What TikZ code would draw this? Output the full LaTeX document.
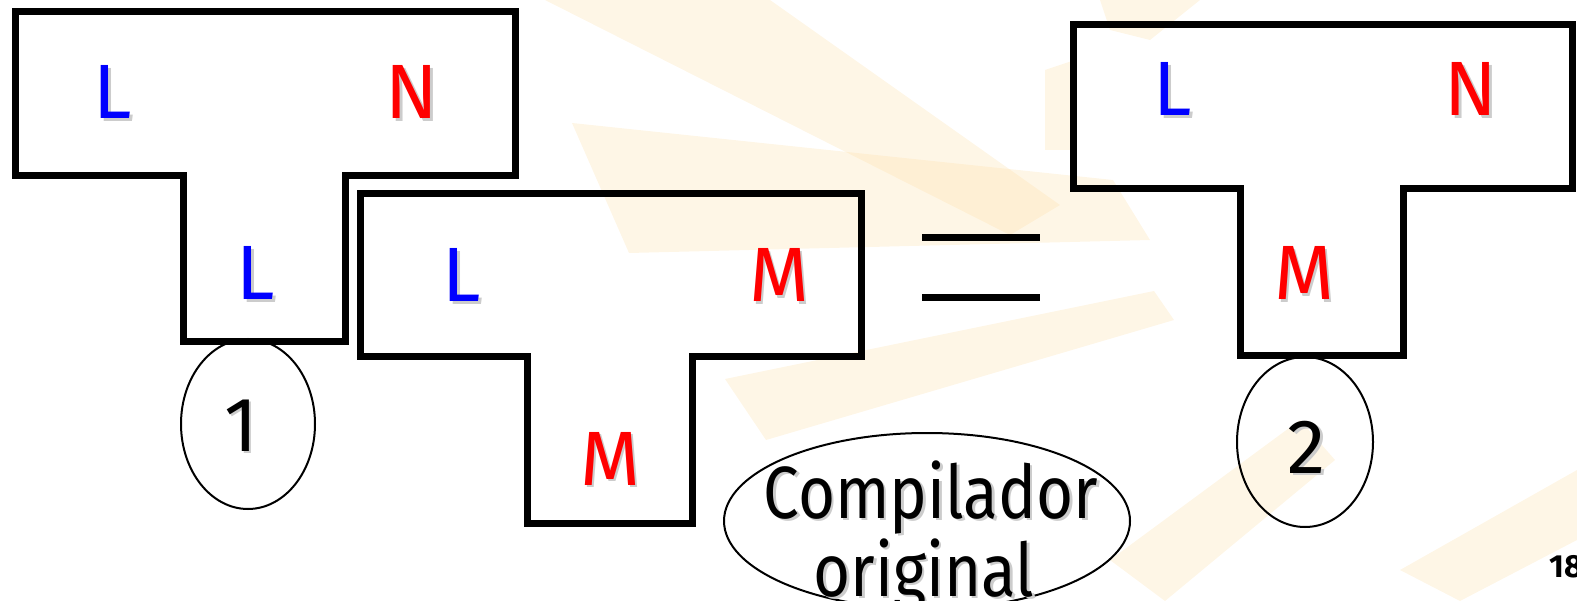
\documentclass[tikz,border=0pt]{standalone}
\usepackage{fontspec}
\setmainfont{Fira Sans}
\newfontfamily\condfont[FakeStretch=0.86]{Fira Sans}
\usetikzlibrary{shapes.geometric}
\definecolor{rayc}{RGB}{252,222,165}
\definecolor{lblue}{RGB}{0,0,255}
\definecolor{lred}{RGB}{255,0,0}
\newcommand\shd[2]{\makebox[0pt][l]{\hspace{2.5pt}\raisebox{-2.5pt}{\textcolor{black!20}{#2}}}\textcolor{#1}{#2}}
\begin{document}
\begin{tikzpicture}[x=1pt,y=-1pt,
  tshape/.style={draw=black,line width=7pt},
  ray/.style={fill=rayc,fill opacity=0.28},
  letter/.style={font=\fontsize{77}{80}\selectfont,anchor=base,inner sep=0pt},
  comptext/.style={font=\condfont\fontsize{74}{78}\selectfont,anchor=base,inner sep=0pt},
  oval/.style={draw=black,line width=2pt,ellipse,inner sep=0pt},
  eqline/.style={draw=black,line width=7pt}]
\useasboundingbox (0,0) rectangle (1577,601);
% faint background rays
\fill[ray] (545,0) -- (770,0) -- (1060,205) -- (1010,235) -- cycle;
\fill[ray] (572,123) -- (1113,180) -- (1150,240) -- (629,253) -- cycle;
\fill[ray] (725,379) -- (1154,291) -- (1174,320) -- (766,440) -- cycle;
\fill[ray] (1110,560) -- (1300,420) -- (1335,460) -- (1165,601) -- cycle;
\fill[ray] (1400,570) -- (1577,470) -- (1577,540) -- (1460,601) -- cycle;
\fill[ray] (1100,0) -- (1200,0) -- (1150,40) -- (1110,30) -- cycle;
\fill[ray] (1045,70) -- (1075,60) -- (1075,150) -- (1045,150) -- cycle;
% T shapes
\draw[tshape] (15,12) -- (515,12) -- (515,176) -- (345,176) -- (345,342) -- (183,342) -- (183,176) -- (15,176) -- cycle;
\draw[tshape] (360,194) -- (861,194) -- (861,357) -- (692,357) -- (692,523) -- (527,523) -- (527,357) -- (360,357) -- cycle;
\draw[tshape] (1073,25) -- (1572,25) -- (1572,189) -- (1403,189) -- (1403,356) -- (1240,356) -- (1240,189) -- (1073,189) -- cycle;
% letters
\node[letter] (t1l) at (113,119) {\shd{lblue}{L}};
\node[letter] (t1n) at (412,119) {\shd{lred}{N}};
\node[letter] (t1s) at (256,300) {\shd{lblue}{L}};
\node[letter] (t2l) at (462,302) {\shd{lblue}{L}};
\node[letter] (t2m) at (779,302) {\shd{lred}{M}};
\node[letter] (t2s) at (610,485) {\shd{lred}{M}};
\node[letter] (t3l) at (1173,116) {\shd{lblue}{L}};
\node[letter] (t3n) at (1471,116) {\shd{lred}{N}};
\node[letter] (t3s) at (1304,300) {\shd{lred}{M}};
% equals sign
\coordinate (e1a) at (922,238);
\coordinate (e1b) at (1040,238);
\coordinate (e2a) at (922,298);
\coordinate (e2b) at (1040,298);
\draw[eqline] (e1a) -- (e1b);
\draw[eqline] (e2a) -- (e2b);
% ovals
\node[oval,minimum width=134pt,minimum height=170pt] (c1) at (248,424) {};
\node[letter] (n1) at (241,451) {\shd{black}{1}};
\node[oval,minimum width=136pt,minimum height=170pt] (c2) at (1305,442) {};
\node[letter] (n2) at (1307,473) {\shd{black}{2}};
\node[oval,minimum width=406pt,minimum height=176pt] (comp) at (927,521) {};
\node[comptext] (compa) at (931,518) {\shd{black}{Compilador}};
\node[comptext] (compb) at (924,596) {\shd{black}{original}};
% page number
\node[font=\bfseries\fontsize{32}{34}\selectfont,anchor=base west,inner sep=0pt] (pg) at (1549,577) {18};
\end{tikzpicture}
\end{document}
